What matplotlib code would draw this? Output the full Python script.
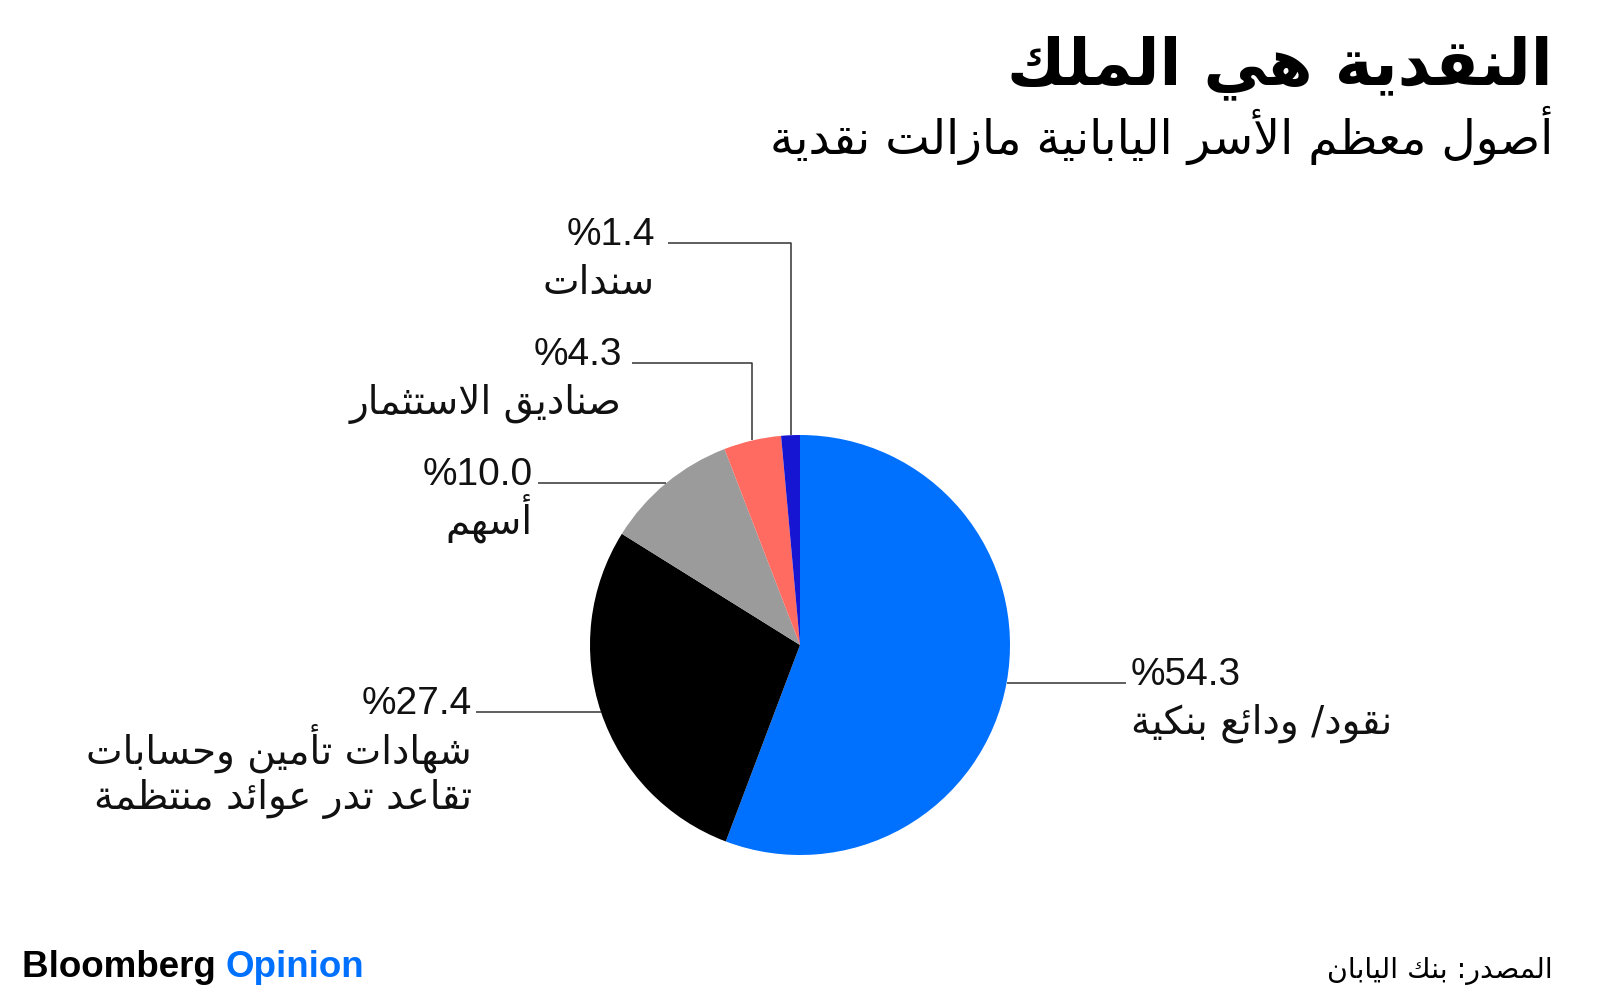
"""
Pie chart: Japanese household assets (Bloomberg Opinion, Arabic)
"""
import numpy as np
import matplotlib
matplotlib.use("Agg")
import matplotlib.pyplot as plt

# data
categories = ["نقود/ ودائع بنكية",
              "شهادات تأمين وحسابات\nتقاعد تدر عوائد منتظمة",
              "أسهم",
              "صناديق الاستثمار",
              "سندات"]
shares = [54.3, 27.4, 10.0, 4.3, 1.4]
colors = ["#0070ff", "#000000", "#9b9b9b", "#ff6b61", "#1616d2"]

title = "النقدية هي الملك"
subtitle = "أصول معظم الأسر اليابانية مازالت نقدية"
source = "المصدر: بنك اليابان"


# --- minimal arabic shaping (matplotlib has no complex text layout) ---
_letters = [chr(c) for c in range(0x621, 0x63B)] + [chr(c) for c in range(0x641, 0x64B)]
_two = set("آأؤإاةدذرزوى")
FORMS = {}
code = 0xFE80
for ch in _letters:
    nf = 1 if ch == "ء" else (2 if ch in _two else 4)
    FORMS[ch] = (code, nf)
    code += nf
LAMALEF = {"آ": 0xFEF5, "أ": 0xFEF7, "إ": 0xFEF9, "ا": 0xFEFB}


def _dual(c):
    return c in FORMS and FORMS[c][1] == 4


def _joins(c):
    return c in FORMS and FORMS[c][1] > 1


def ar(text):
    lines = []
    for line in text.split("\n"):
        out = []
        i, n = 0, len(line)
        while i < n:
            c = line[i]
            if c not in FORMS:
                out.append(c)
                i += 1
                continue
            cp = i > 0 and _dual(line[i - 1])
            if c == "ل" and i + 1 < n and line[i + 1] in LAMALEF:
                out.append(chr(LAMALEF[line[i + 1]] + (1 if cp else 0)))
                i += 2
                continue
            base, nf = FORMS[c]
            cn = _dual(c) and i + 1 < n and _joins(line[i + 1])
            if nf == 1:
                k = 0
            elif cp and cn:
                k = 3
            elif cp:
                k = 1
            elif cn:
                k = 2
            else:
                k = 0
            out.append(chr(base + k))
            i += 1
        lines.append("".join(reversed(out)))
    return lines


AR_FONT = "DejaVu Sans"
NUM_FONT = "Liberation Sans"
LINE_C = "#333333"

W, H = 1600, 1004
CX, CY, R = 800, 646, 210

fig = plt.figure(figsize=(W / 100, H / 100), dpi=100)
fig.patch.set_facecolor("white")
ax = fig.add_axes([0, 0, 1, 1])


def px(x, y):
    # pixel position -> data coords (pie radius is 1)
    return (x - CX) / R, (CY - y) / R


wedges, _ = ax.pie(shares, colors=colors, startangle=90, counterclock=False,
                   radius=1.0, wedgeprops=dict(linewidth=0))
ax.set_aspect("auto")
ax.set_xlim(px(0, 0)[0], px(W, 0)[0])
ax.set_ylim(px(0, H)[1], px(0, 0)[1])
ax.axis("off")

# label layout: text x (px), ha, line end x (px), elbow y (px or None)
layout = [
    (1131, "left", 1126, None),
    (472, "right", 476, None),
    (533, "right", 538, None),
    (622, "right", 632, 364),
    (655, "right", 668, 244),
]

for w, cat, val, (tx, ha, lx, elbow) in zip(wedges, categories, shares, layout):
    mid = np.deg2rad((w.theta1 + w.theta2) / 2)
    mx, my = np.cos(mid), np.sin(mid)
    if elbow is None:
        ly = my
        ax.plot([mx, px(lx, 0)[0]], [my, my], color=LINE_C, lw=1.1,
                solid_capstyle="butt")
    else:
        ly = px(0, elbow)[1]
        ax.plot([mx, mx, px(lx, 0)[0]], [my, ly, ly], color=LINE_C, lw=1.1,
                solid_capstyle="butt")
    base_y = CY - ly * R + 1
    x0 = px(tx, 0)[0]
    ax.text(x0, px(0, base_y)[1], "%" + f"{val:.1f}", ha=ha, va="baseline",
            fontsize=28, family=NUM_FONT, color="#111111")
    for j, line in enumerate(ar(cat)):
        ax.text(x0, px(0, base_y + 49 + 46 * j)[1], line, ha=ha, va="baseline",
                fontsize=28, family=AR_FONT, color="#111111")

# titles
fig.text(1553 / W, 1 - 84 / H, ar(title)[0], ha="right", va="baseline",
         fontsize=46, fontweight="bold", family=AR_FONT, color="black")
fig.text(1553 / W, 1 - 154 / H, ar(subtitle)[0], ha="right", va="baseline",
         fontsize=34, family=AR_FONT, color="black")

# footer
t1 = fig.text(22 / W, 1 - 977 / H, "Bloomberg ", ha="left", va="baseline",
              fontsize=26.5, fontweight="bold", family=NUM_FONT, color="black")
fig.canvas.draw()
bb = t1.get_window_extent()
fig.text(bb.x1 / W, 1 - 977 / H, "Opinion", ha="left", va="baseline",
         fontsize=26.5, fontweight="bold", family=NUM_FONT, color="#0070ff")
fig.text(1553 / W, 1 - 978 / H, ar(source)[0], ha="right", va="baseline",
         fontsize=20.5, family=AR_FONT, color="black")

plt.savefig("out.png", dpi=100, facecolor="white")
plt.close()
